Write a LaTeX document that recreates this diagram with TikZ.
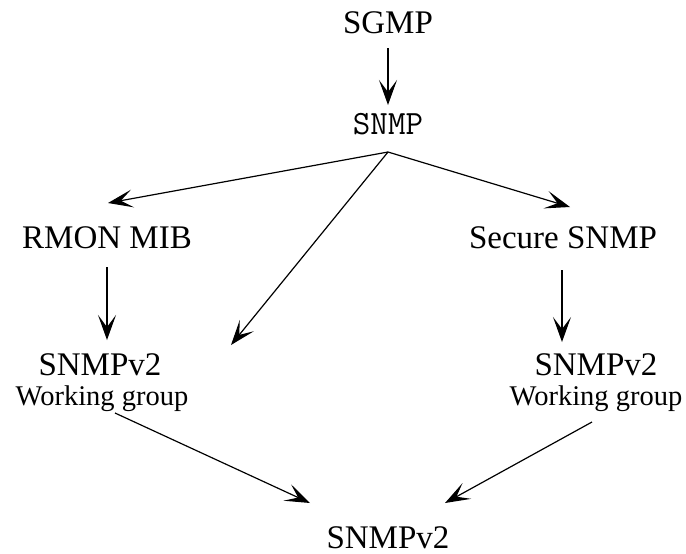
\documentclass[tikz,border=0pt]{standalone}
\usepackage{fontspec}
\setmainfont{Liberation Serif}
\usetikzlibrary{arrows.meta}
\begin{document}
\begin{tikzpicture}[x=0.5pt,y=-0.5pt,>={Stealth[length=12.5pt,width=9pt,inset=6pt]},
  line width=0.6pt,
  big/.style={inner sep=0pt,anchor=base,font=\fontsize{16.5}{20}\selectfont},
  small/.style={inner sep=0pt,anchor=base,font=\fontsize{14.25}{17}\selectfont},
  mono/.style={inner sep=0pt,anchor=base,font=\fontsize{17}{20}\selectfont\ttfamily}]
  \useasboundingbox (0,0) rectangle (686,553);
  \node[big] (sgmp) at (388,33) {SGMP};
  \node[mono] (snmp) at (388,134) {SNMP};
  \node[big] (rmon) at (107,248) {RMON MIB};
  \node[big] (secure) at (563,248) {Secure SNMP};
  \node[big] (v2l) at (100,375) {SNMPv2};
  \node[small] (wgl) at (102,405) {Working group};
  \node[big] (v2r) at (596,375) {SNMPv2};
  \node[small] (wgr) at (596,405) {Working group};
  \node[big] (final) at (388,548) {SNMPv2};
  \coordinate (apex) at ([shift={(0,18)}]snmp.base);
  \coordinate (mid) at (231,345);
  \draw[->] ([shift={(0,15)}]sgmp.base) -- ([shift={(0,-29)}]snmp.base);
  \draw[->] (apex) -- ([shift={(1,-45)}]rmon.base);
  \draw[->] (apex) -- ([shift={(7,-41)}]secure.base);
  \draw[->] (apex) -- (mid);
  \draw[->] ([shift={(0,19)}]rmon.base) -- ([shift={(7,-35)}]v2l.base);
  \draw[->] ([shift={(-1,22)}]secure.base) -- ([shift={(-34,-33)}]v2r.base);
  \draw[->] ([shift={(13,8)}]wgl.base) -- ([shift={(-78,-45)}]final.base);
  \draw[->] ([shift={(-4,17)}]wgr.base) -- ([shift={(57,-45)}]final.base);
\end{tikzpicture}
\end{document}
